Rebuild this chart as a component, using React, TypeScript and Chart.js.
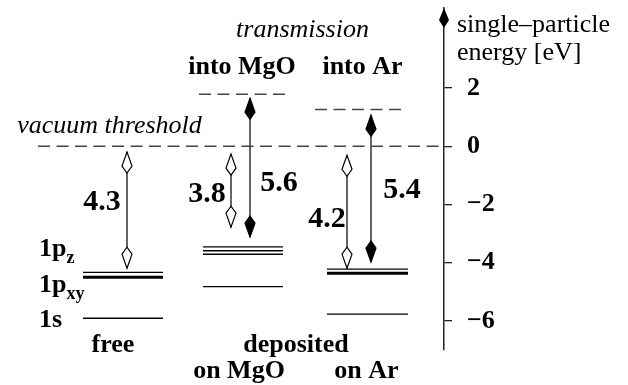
import React, { useEffect, useRef } from 'react';
import { Chart, registerables } from 'chart.js';
Chart.register(...registerables);

// ---- data (single-particle energies in eV) ----
const yTickValues = [-6, -4, -2, 0, 2];
const vacuumLevel = 0;
const transmissionMgO = 1.79;
const transmissionAr = 1.26;
const freeLevels = [-4.33, -4.5, -5.91]; // 1pz, 1pxy, 1s
const mgoLevels = [-3.46, -3.59, -3.71, -4.82];
const arLevels = [-4.22, -4.36, -5.77];
const arrowLabels = ['4.3', '3.8', '5.6', '4.2', '5.4'];
const arrowTop = [-0.2, -0.27, 1.65, -0.31, 1.07];
const arrowBottom = [-4.19, -2.78, -3.12, -4.19, -3.98];
const arrowFilled = [false, false, true, false, true];

// ---- layout (schematic x units, energy-units for text baselines) ----
const X_MAX = 444;
const freeX = [83, 163];
const mgoX = [203, 283];
const arX = [327, 408];
const vacuumX = [38, 444];
const transMgOX = [199, 287];
const transArX = [315, 403];
const arrowX = [127, 231, 250, 347, 371];
const freeThick = [false, true, false];
const mgoThick = [false, false, false, false];
const arThick = [false, true, false];
const arrowLabelPos = [
  [102, -2.2],
  [207, -1.92],
  [279, -1.54],
  [327, -2.78],
  [402, -1.78],
];

const SERIF = '"Liberation Serif", "Times New Roman", serif';

function levelSets(levels: number[], xr: number[], thick: boolean[]) {
  return levels.map((e, i) => ({
    data: [
      { x: xr[0], y: e },
      { x: xr[1], y: e },
    ],
    borderColor: '#000',
    borderWidth: thick[i] ? 3 : 1.3,
    pointRadius: 0,
  }));
}

function dashed(e: number, xr: number[]) {
  return {
    data: [
      { x: xr[0], y: e },
      { x: xr[1], y: e },
    ],
    borderColor: '#444',
    borderWidth: 1.5,
    borderDash: [12, 6.5],
    pointRadius: 0,
  };
}

const overlayPlugin = {
  id: 'overlay',
  afterDatasetsDraw(chart: any) {
    const ctx = chart.ctx as CanvasRenderingContext2D;
    const xs = chart.scales.x;
    const ys = chart.scales.y;
    const px = (v: number) => xs.getPixelForValue(v);
    const py = (v: number) => ys.getPixelForValue(v);
    ctx.save();

    const head = (x: number, tipY: number, dir: number, filled: boolean) => {
      ctx.beginPath();
      ctx.moveTo(x, tipY);
      ctx.lineTo(x + 5, tipY + dir * 14);
      ctx.lineTo(x, tipY + dir * 21);
      ctx.lineTo(x - 5, tipY + dir * 14);
      ctx.closePath();
      ctx.fillStyle = filled ? '#000' : '#fff';
      ctx.fill();
      ctx.lineWidth = 1.2;
      ctx.strokeStyle = '#000';
      ctx.stroke();
    };
    arrowX.forEach((x, i) => {
      head(px(x), py(arrowTop[i]), 1, arrowFilled[i]);
      head(px(x), py(arrowBottom[i]), -1, arrowFilled[i]);
    });

    // y-axis arrow head
    const ax = ys.left;
    const top = chart.chartArea.top;
    ctx.beginPath();
    ctx.moveTo(ax, top);
    ctx.lineTo(ax + 5, top + 12);
    ctx.lineTo(ax, top + 20);
    ctx.lineTo(ax - 5, top + 12);
    ctx.closePath();
    ctx.fillStyle = '#000';
    ctx.fill();

    ctx.fillStyle = '#000';
    ctx.textBaseline = 'alphabetic';
    const text = (s: string, x: number, e: number, font: string, align: CanvasTextAlign = 'center') => {
      ctx.font = font;
      ctx.textAlign = align;
      ctx.fillText(s, px(x), py(e));
    };
    const bold = `bold 26px ${SERIF}`;
    const italic = `italic 26px ${SERIF}`;
    const regular = `26px ${SERIF}`;
    const big = `bold 30px ${SERIF}`;

    text('transmission', 302.5, 3.75, italic);
    text('into MgO', 242, 2.48, bold);
    text('into Ar', 362.5, 2.48, bold);
    text('vacuum threshold', 109.5, 0.45, italic);

    arrowLabels.forEach((s, i) => text(s, arrowLabelPos[i][0], arrowLabelPos[i][1], big));

    const orb = (main: string, sub: string, x: number, e: number) => {
      ctx.font = bold;
      ctx.textAlign = 'left';
      const x0 = px(x);
      const y0 = py(e);
      ctx.fillText(main, x0, y0);
      const w = ctx.measureText(main).width;
      if (sub) {
        ctx.font = `bold 18px ${SERIF}`;
        ctx.fillText(sub, x0 + w, y0 + 7);
      }
    };
    orb('1p', 'z', 39, -3.77);
    orb('1p', 'xy', 39, -5.01);
    orb('1s', '', 39, -6.22);

    text('free', 113, -7.08, bold);
    text('deposited', 296, -7.08, bold);
    text('on MgO', 239, -7.97, bold);
    text('on Ar', 366.5, -7.97, bold);

    text('single\u2013particle', 457, 3.92, regular, 'left');
    text('energy [eV]', 457, 2.96, regular, 'left');

    ctx.restore();
  },
};

export default function App() {
  const ref = useRef<HTMLCanvasElement | null>(null);
  useEffect(() => {
    if (!ref.current) return;
    const datasets: any[] = [
      dashed(vacuumLevel, vacuumX),
      dashed(transmissionMgO, transMgOX),
      dashed(transmissionAr, transArX),
      ...levelSets(freeLevels, freeX, freeThick),
      ...levelSets(mgoLevels, mgoX, mgoThick),
      ...levelSets(arLevels, arX, arThick),
      ...arrowX.map((x, i) => ({
        data: [
          { x, y: arrowTop[i] },
          { x, y: arrowBottom[i] },
        ],
        borderColor: '#000',
        borderWidth: 1.2,
        pointRadius: 0,
      })),
    ];
    const chart = new Chart(ref.current, {
      type: 'line',
      data: { datasets },
      options: {
        animation: false,
        responsive: false,
        maintainAspectRatio: false,
        layout: { padding: { top: 8, bottom: 35, left: 0, right: 0 } },
        plugins: { legend: { display: false }, tooltip: { enabled: false } },
        elements: { line: { tension: 0 } },
        scales: {
          x: { type: 'linear', min: 0, max: X_MAX, display: false },
          y: {
            type: 'linear',
            position: 'right',
            min: -7,
            max: 4.75,
            afterBuildTicks: (s: any) => {
              s.ticks = yTickValues.map((v) => ({ value: v }));
            },
            afterFit: (s: any) => {
              s.width = 628 - X_MAX;
              s.paddingTop = 0;
              s.paddingBottom = 0;
            },
            grid: {
              drawOnChartArea: false,
              drawTicks: true,
              tickLength: 8,
              color: '#222',
              lineWidth: 1.3,
            },
            border: { display: true, color: '#222', width: 1.5 },
            ticks: {
              color: '#000',
              padding: 15,
              font: { family: SERIF, size: 26, weight: 'bold' },
              callback: (v: any) => (Number(v) < 0 ? '\u2212' + Math.abs(Number(v)) : String(v)),
            },
          },
        },
      },
      plugins: [overlayPlugin],
    } as any);
    return () => chart.destroy();
  }, []);
  return (
    <div style={{ position: 'absolute', left: 0, top: 0, width: 628, height: 385, background: '#fff' }}>
      <canvas ref={ref} width={628} height={385} style={{ width: 628, height: 385 }} />
    </div>
  );
}
